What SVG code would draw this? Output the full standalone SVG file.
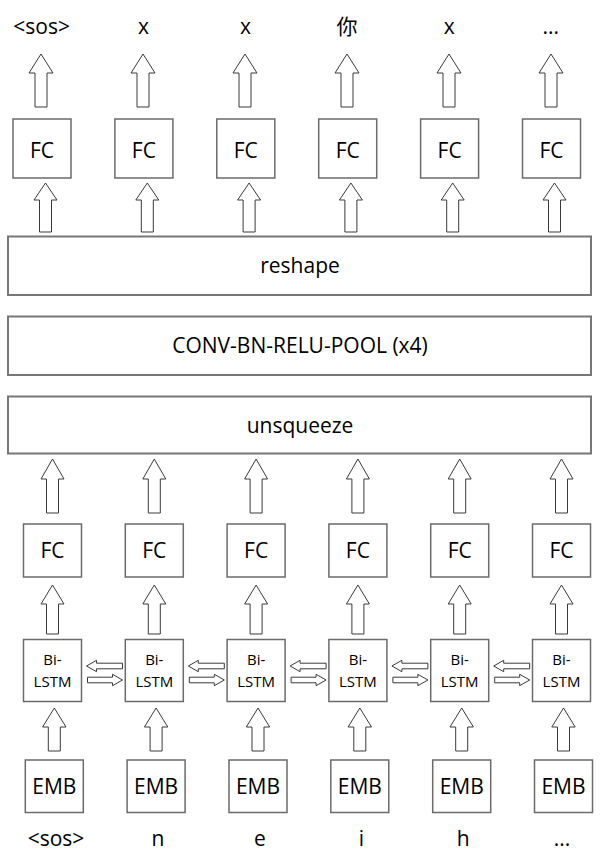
<svg xmlns="http://www.w3.org/2000/svg" width="600" height="863" viewBox="0 0 600 863">
<style>
.box{fill:#fff;stroke:#6b6b6b;stroke-width:1.5}
.wide{fill:#fff;stroke:#777;stroke-width:2}
.arr{fill:#fff;stroke:#3a3a3a;stroke-width:1;stroke-linejoin:miter}
.t{font-family:"Open Sans","Noto Sans CJK SC",sans-serif;font-size:21px;fill:#000;text-anchor:middle}
.s{font-family:"Open Sans",sans-serif;font-size:15px;fill:#000;text-anchor:middle}
.cjk{font-family:"Noto Sans CJK SC",sans-serif;font-size:21px;fill:#000;text-anchor:middle}
</style>
<rect width="600" height="863" fill="#fff"/>

<g id="connectors">
  <!-- FC (top) -> output labels -->
  <path class="arr" d="M41,54 L53,73 L47,73 L47,107 L35,107 L35,73 L29,73 Z"/>
  <path class="arr" d="M143,54 L155,73 L149,73 L149,107 L137,107 L137,73 L131,73 Z"/>
  <path class="arr" d="M245,54 L257,73 L251,73 L251,107 L239,107 L239,73 L233,73 Z"/>
  <path class="arr" d="M347,54 L359,73 L353,73 L353,107 L341,107 L341,73 L335,73 Z"/>
  <path class="arr" d="M449,54 L461,73 L455,73 L455,107 L443,107 L443,73 L437,73 Z"/>
  <path class="arr" d="M551,54 L563,73 L557,73 L557,107 L545,107 L545,73 L539,73 Z"/>
  <!-- reshape -> FC (top) -->
  <path class="arr" d="M45.5,183 L57,200 L51.5,200 L51.5,232 L39.5,232 L39.5,200 L34,200 Z"/>
  <path class="arr" d="M147.3,183 L158.8,200 L153.3,200 L153.3,232 L141.3,232 L141.3,200 L135.8,200 Z"/>
  <path class="arr" d="M249.1,183 L260.6,200 L255.1,200 L255.1,232 L243.1,232 L243.1,200 L237.6,200 Z"/>
  <path class="arr" d="M350.9,183 L362.4,200 L356.9,200 L356.9,232 L344.9,232 L344.9,200 L339.4,200 Z"/>
  <path class="arr" d="M452.7,183 L464.2,200 L458.7,200 L458.7,232 L446.7,232 L446.7,200 L441.2,200 Z"/>
  <path class="arr" d="M554.5,183 L566,200 L560.5,200 L560.5,232 L548.5,232 L548.5,200 L543,200 Z"/>
  <!-- FC (bottom) -> unsqueeze -->
  <path class="arr" d="M52.5,459 L64,479 L58.5,479 L58.5,513 L46.5,513 L46.5,479 L41,479 Z"/>
  <path class="arr" d="M154.3,459 L165.8,479 L160.3,479 L160.3,513 L148.3,513 L148.3,479 L142.8,479 Z"/>
  <path class="arr" d="M256.1,459 L267.6,479 L262.1,479 L262.1,513 L250.1,513 L250.1,479 L244.6,479 Z"/>
  <path class="arr" d="M357.9,459 L369.4,479 L363.9,479 L363.9,513 L351.9,513 L351.9,479 L346.4,479 Z"/>
  <path class="arr" d="M459.7,459 L471.2,479 L465.7,479 L465.7,513 L453.7,513 L453.7,479 L448.2,479 Z"/>
  <path class="arr" d="M561.5,459 L573,479 L567.5,479 L567.5,513 L555.5,513 L555.5,479 L550,479 Z"/>
  <!-- Bi-LSTM -> FC (bottom) -->
  <path class="arr" d="M52.5,585 L64,604 L58.5,604 L58.5,634 L46.5,634 L46.5,604 L41,604 Z"/>
  <path class="arr" d="M154.3,585 L165.8,604 L160.3,604 L160.3,634 L148.3,634 L148.3,604 L142.8,604 Z"/>
  <path class="arr" d="M256.1,585 L267.6,604 L262.1,604 L262.1,634 L250.1,634 L250.1,604 L244.6,604 Z"/>
  <path class="arr" d="M357.9,585 L369.4,604 L363.9,604 L363.9,634 L351.9,634 L351.9,604 L346.4,604 Z"/>
  <path class="arr" d="M459.7,585 L471.2,604 L465.7,604 L465.7,634 L453.7,634 L453.7,604 L448.2,604 Z"/>
  <path class="arr" d="M561.5,585 L573,604 L567.5,604 L567.5,634 L555.5,634 L555.5,604 L550,604 Z"/>
  <!-- EMB -> Bi-LSTM -->
  <path class="arr" d="M54.3,708 L66,727 L60.3,727 L60.3,751 L48.3,751 L48.3,727 L42.6,727 Z"/>
  <path class="arr" d="M156.1,708 L167.8,727 L162.1,727 L162.1,751 L150.1,751 L150.1,727 L144.4,727 Z"/>
  <path class="arr" d="M258,708 L269.7,727 L264,727 L264,751 L252,751 L252,727 L246.3,727 Z"/>
  <path class="arr" d="M359.8,708 L371.5,727 L365.8,727 L365.8,751 L353.8,751 L353.8,727 L348.1,727 Z"/>
  <path class="arr" d="M461.7,708 L473.4,727 L467.7,727 L467.7,751 L455.7,751 L455.7,727 L450,727 Z"/>
  <path class="arr" d="M563.5,708 L575.2,727 L569.5,727 L569.5,751 L557.5,751 L557.5,727 L551.8,727 Z"/>
  <!-- Bi-LSTM horizontal (left / right) -->
  <path class="arr" d="M86.5,666 L96.5,660.3 L96.5,663.2 L122.5,663.2 L122.5,668.8 L96.5,668.8 L96.5,671.7 Z"/>
  <path class="arr" d="M122.5,680 L112.5,674.3 L112.5,677.2 L87.5,677.2 L87.5,682.8 L112.5,682.8 L112.5,685.7 Z"/>
  <path class="arr" d="M188.3,666 L198.3,660.3 L198.3,663.2 L224.3,663.2 L224.3,668.8 L198.3,668.8 L198.3,671.7 Z"/>
  <path class="arr" d="M224.3,680 L214.3,674.3 L214.3,677.2 L189.3,677.2 L189.3,682.8 L214.3,682.8 L214.3,685.7 Z"/>
  <path class="arr" d="M290.1,666 L300.1,660.3 L300.1,663.2 L326.1,663.2 L326.1,668.8 L300.1,668.8 L300.1,671.7 Z"/>
  <path class="arr" d="M326.1,680 L316.1,674.3 L316.1,677.2 L291.1,677.2 L291.1,682.8 L316.1,682.8 L316.1,685.7 Z"/>
  <path class="arr" d="M391.9,666 L401.9,660.3 L401.9,663.2 L427.9,663.2 L427.9,668.8 L401.9,668.8 L401.9,671.7 Z"/>
  <path class="arr" d="M427.9,680 L417.9,674.3 L417.9,677.2 L392.9,677.2 L392.9,682.8 L417.9,682.8 L417.9,685.7 Z"/>
  <path class="arr" d="M493.7,666 L503.7,660.3 L503.7,663.2 L529.7,663.2 L529.7,668.8 L503.7,668.8 L503.7,671.7 Z"/>
  <path class="arr" d="M529.7,680 L519.7,674.3 L519.7,677.2 L494.7,677.2 L494.7,682.8 L519.7,682.8 L519.7,685.7 Z"/>
</g>

<g id="out-labels">
  <text class="t" x="41.7" y="33.5">&lt;sos&gt;</text>
  <text class="t" x="143.5" y="33.5">x</text>
  <text class="t" x="245.5" y="33.5">x</text>
  <text class="cjk" x="347" y="33.5">你</text>
  <text class="t" x="449.3" y="33.5">x</text>
  <text class="t" x="550.7" y="33.5">...</text>
</g>

<g id="fc-top-1"><rect class="box" x="13" y="119" width="58" height="59"/><text class="t" x="42" y="158.3">FC</text></g>
<g id="fc-top-2"><rect class="box" x="114.9" y="119" width="58" height="59"/><text class="t" x="143.9" y="158.3">FC</text></g>
<g id="fc-top-3"><rect class="box" x="216.8" y="119" width="58" height="59"/><text class="t" x="245.8" y="158.3">FC</text></g>
<g id="fc-top-4"><rect class="box" x="318.7" y="119" width="58" height="59"/><text class="t" x="347.7" y="158.3">FC</text></g>
<g id="fc-top-5"><rect class="box" x="420.6" y="119" width="58" height="59"/><text class="t" x="449.6" y="158.3">FC</text></g>
<g id="fc-top-6"><rect class="box" x="522.5" y="119" width="58" height="59"/><text class="t" x="551.5" y="158.3">FC</text></g>

<g id="reshape"><rect class="wide" x="8" y="236.5" width="583" height="58.5"/><text class="t" x="300" y="273.3">reshape</text></g>
<g id="conv"><rect class="wide" x="8" y="316.5" width="583" height="58.5"/><text class="t" x="300" y="352.7">CONV-BN-RELU-POOL (x4)</text></g>
<g id="unsqueeze"><rect class="wide" x="8" y="396.5" width="583" height="57"/><text class="t" x="300" y="432.7">unsqueeze</text></g>

<g id="fc-bot-1"><rect class="box" x="23.5" y="524" width="58" height="53"/><text class="t" x="52.5" y="558.3">FC</text></g>
<g id="fc-bot-2"><rect class="box" x="125.3" y="524" width="58" height="53"/><text class="t" x="154.3" y="558.3">FC</text></g>
<g id="fc-bot-3"><rect class="box" x="227.1" y="524" width="58" height="53"/><text class="t" x="256.1" y="558.3">FC</text></g>
<g id="fc-bot-4"><rect class="box" x="328.9" y="524" width="58" height="53"/><text class="t" x="357.9" y="558.3">FC</text></g>
<g id="fc-bot-5"><rect class="box" x="430.7" y="524" width="58" height="53"/><text class="t" x="459.7" y="558.3">FC</text></g>
<g id="fc-bot-6"><rect class="box" x="532.5" y="524" width="58" height="53"/><text class="t" x="561.5" y="558.3">FC</text></g>

<g id="lstm-1"><rect class="box" x="23.5" y="639.5" width="58" height="62"/><text class="s" x="52.5" y="665">Bi-</text><text class="s" x="52.5" y="687.3">LSTM</text></g>
<g id="lstm-2"><rect class="box" x="125.3" y="639.5" width="58" height="62"/><text class="s" x="154.3" y="665">Bi-</text><text class="s" x="154.3" y="687.3">LSTM</text></g>
<g id="lstm-3"><rect class="box" x="227.1" y="639.5" width="58" height="62"/><text class="s" x="256.1" y="665">Bi-</text><text class="s" x="256.1" y="687.3">LSTM</text></g>
<g id="lstm-4"><rect class="box" x="328.9" y="639.5" width="58" height="62"/><text class="s" x="357.9" y="665">Bi-</text><text class="s" x="357.9" y="687.3">LSTM</text></g>
<g id="lstm-5"><rect class="box" x="430.7" y="639.5" width="58" height="62"/><text class="s" x="459.7" y="665">Bi-</text><text class="s" x="459.7" y="687.3">LSTM</text></g>
<g id="lstm-6"><rect class="box" x="532.5" y="639.5" width="58" height="62"/><text class="s" x="561.5" y="665">Bi-</text><text class="s" x="561.5" y="687.3">LSTM</text></g>

<g id="emb-1"><rect class="box" x="25.3" y="760" width="58" height="52.5"/><text class="t" x="54.3" y="794">EMB</text></g>
<g id="emb-2"><rect class="box" x="127.1" y="760" width="58" height="52.5"/><text class="t" x="156.1" y="794">EMB</text></g>
<g id="emb-3"><rect class="box" x="229" y="760" width="58" height="52.5"/><text class="t" x="258" y="794">EMB</text></g>
<g id="emb-4"><rect class="box" x="330.8" y="760" width="58" height="52.5"/><text class="t" x="359.8" y="794">EMB</text></g>
<g id="emb-5"><rect class="box" x="432.7" y="760" width="58" height="52.5"/><text class="t" x="461.7" y="794">EMB</text></g>
<g id="emb-6"><rect class="box" x="534.5" y="760" width="58" height="52.5"/><text class="t" x="563.5" y="794">EMB</text></g>

<g id="in-labels">
  <text class="t" x="56" y="846">&lt;sos&gt;</text>
  <text class="t" x="158" y="846">n</text>
  <text class="t" x="260" y="846">e</text>
  <text class="t" x="361.5" y="846">i</text>
  <text class="t" x="463.3" y="846">h</text>
  <text class="t" x="562" y="846">...</text>
</g>
</svg>
